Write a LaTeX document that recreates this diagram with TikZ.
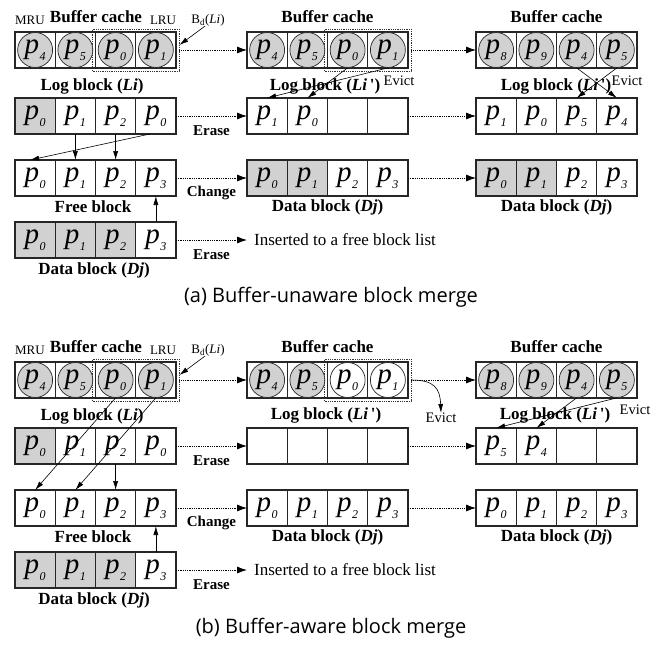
\documentclass[tikz,border=0pt]{standalone}
\usepackage{fontspec}
\setmainfont{Liberation Serif}
\newfontfamily\capfont{Open Sans}
\usetikzlibrary{arrows.meta,fit}
\colorlet{G}{black!18}
\newcommand\pp[1]{{\fontsize{29}{29}\selectfont\itshape p\kern0.5pt\raisebox{-7pt}{\fontsize{12}{12}\selectfont #1}}}
\newcommand\blockrow[4]{\foreach \fc/\cc [count=\i] in {#4} {\node[cell, fill=\fc] (#1-\i) at ({#2+(\i-0.5)*40.25}, #3) {\if x\cc\else\pp{\cc}\fi};}}
\newcommand\bufrow[4]{\foreach \fc/\cc [count=\i] in {#4} {\node[cell, fill=white] (#1-\i) at ({#2+(\i-0.5)*40.25}, #3) {}; \node[bcirc, fill=\fc] (#1-c\i) at (#1-\i) {\pp{\cc}};}}
\begin{document}
\begin{tikzpicture}[x=1pt,y=-1pt,
  cell/.style={draw=black!85, line width=1.3pt, minimum width=40.25pt, minimum height=36pt, inner sep=0pt, outer sep=0pt},
  bcirc/.style={circle, draw=black!85, line width=0.7pt, minimum size=35pt, inner sep=0pt},
  ttl/.style={font=\fontsize{17}{17}\selectfont\bfseries, inner sep=0pt},
  sml/.style={font=\fontsize{13}{13}\selectfont, inner sep=0pt},
  ev/.style={font=\fontsize{14.5}{14.5}\selectfont, inner sep=0pt},
  lbl/.style={font=\fontsize{15}{15}\selectfont\bfseries, inner sep=0pt},
  txt/.style={font=\fontsize{17}{17}\selectfont, inner sep=0pt},
  dbox/.style={draw=black!80, densely dotted, line width=0.8pt, inner sep=3pt},
  darr/.style={densely dotted, line width=0.8pt, -{Latex[length=10pt,width=7pt]}},
  sarr/.style={line width=0.6pt, -{Latex[length=9pt,width=5pt]}},
  captxt/.style={font=\capfont\fontsize{20}{20}\selectfont, inner sep=0pt}]
\useasboundingbox (0,0) rectangle (668,645);
% ================= (a) =================
% left column
\node[ttl] (aT1) at (96,17) {Buffer cache};
\node[sml] (aMRU) at (30,20) {MRU};
\node[sml] (aLRU) at (163,20) {LRU};
\node[sml] (aBd) at (208,20) {B\textsubscript{d}(\textit{Li})};
\bufrow{aLb}{15}{50}{G/4,G/5,G/0,G/1}
\node[dbox, fit=(aLb-3)(aLb-4)] (aLbox) {};
\draw[sarr] ([xshift=-3pt]aBd.south) -- ([yshift=5pt]aLbox.east);
\node[ttl] (aT2) at (92,86) {Log block (\textit{Li})};
\blockrow{aLl}{15}{116}{G/0,white/1,white/2,white/0}
\blockrow{aLf}{15}{178}{white/0,white/1,white/2,white/3}
\node[ttl] (aT3) at (93,207) {Free block};
\blockrow{aLd}{15}{240}{G/0,G/1,G/2,white/3}
\node[ttl] (aT4) at (94,270) {Data block (\textit{Dj})};
\draw[sarr] (aLl-2.south) -- (aLf-2.north);
\draw[sarr] (aLl-3.south) -- (aLf-3.north);
\draw[sarr] ([xshift=-6pt]aLl-4.south) -- ([xshift=-5pt]aLf-1.north);
\draw[sarr] (aLd-4.north) -- (aLf-4.south);
% middle column
\node[ttl] (aT5) at (327.5,17) {Buffer cache};
\bufrow{aMb}{247}{50}{G/4,G/5,G/0,G/1}
\node[dbox, fit=(aMb-3)(aMb-4)] (aMbox) {};
\node[ttl] (aT6) at (325,86) {Log block (\textit{Li}\,\textquotesingle)};
\node[ev] (aEv1) at (399,81) {Evict};
\blockrow{aMl}{247}{116}{white/1,white/0,white/x,white/x}
\blockrow{aMd}{247}{178}{G/0,G/1,white/2,white/3}
\node[ttl] (aT7) at (327.5,207) {Data block (\textit{Dj})};
\draw[sarr] (aMb-c3.south) -- (aMl-2.north);
\draw[sarr] (aMb-c4.south) -- (aMl-1.north);
% right column
\node[ttl] (aT8) at (556.5,17) {Buffer cache};
\bufrow{aRb}{476}{50}{G/8,G/9,G/4,G/5}
\node[ttl] (aT9) at (556,86) {Log block (\textit{Li}\,\textquotesingle)};
\node[ev] (aEv2) at (627,81) {Evict};
\blockrow{aRl}{476}{116}{white/1,white/0,white/5,white/4}
\blockrow{aRd}{476}{178}{G/0,G/1,white/2,white/3}
\node[ttl] (aT10) at (556.5,207) {Data block (\textit{Dj})};
\draw[sarr] (aRb-c3.south) -- (aRl-4.north);
\draw[sarr] (aRb-c4.south) -- (aRl-3.north);
% connectors between columns
\draw[darr] (aLbox.east) -- (aMb-1.west);
\draw[darr] (aMbox.east) -- (aRb-1.west);
\draw[darr] (aLl-4.east) -- node[lbl, midway, below=9pt] (aEr1) {Erase} (aMl-1.west);
\draw[darr] (aMl-4.east) -- (aRl-1.west);
\draw[darr] (aLf-4.east) -- node[lbl, midway, below=8pt] (aCh) {Change} (aMd-1.west);
\draw[darr] (aMd-4.east) -- (aRd-1.west);
\node[txt, anchor=west] (aIns) at (254,240) {Inserted to a free block list};
\draw[darr] (aLd-4.east) -- node[lbl, midway, below=9pt] (aEr2) {Erase} ([xshift=-7pt]aIns.west);
\node[captxt] (capA) at (331,297) {(a) Buffer-unaware block merge};
% ================= (b) =================
% left column
\node[ttl] (bT1) at (96,347) {Buffer cache};
\node[sml] (bMRU) at (30,350) {MRU};
\node[sml] (bLRU) at (163,350) {LRU};
\node[sml] (bBd) at (208,350) {B\textsubscript{d}(\textit{Li})};
\bufrow{bLb}{15}{380}{G/4,G/5,G/0,G/1}
\node[dbox, fit=(bLb-3)(bLb-4)] (bLbox) {};
\draw[sarr] ([xshift=-3pt]bBd.south) -- ([yshift=5pt]bLbox.east);
\node[ttl] (bT2) at (92,416) {Log block (\textit{Li})};
\blockrow{bLl}{15}{446}{G/0,white/1,white/2,white/0}
\blockrow{bLf}{15}{508}{white/0,white/1,white/2,white/3}
\node[ttl] (bT3) at (93,537) {Free block};
\blockrow{bLd}{15}{570}{G/0,G/1,G/2,white/3}
\node[ttl] (bT4) at (94,600) {Data block (\textit{Dj})};
\draw[sarr] (bLb-c3.south) -- (bLf-1.north);
\draw[sarr] (bLb-c4.south) -- (bLf-2.north);
\draw[sarr] (bLl-3.south) -- (bLf-3.north);
\draw[sarr] (bLd-4.north) -- (bLf-4.south);
% middle column
\node[ttl] (bT5) at (327.5,347) {Buffer cache};
\bufrow{bMb}{247}{380}{G/4,G/5,white/0,white/1}
\node[dbox, fit=(bMb-3)(bMb-4)] (bMbox) {};
\node[ttl] (bT6) at (326,415) {Log block (\textit{Li}\,\textquotesingle)};
\node[ev] (bEv1) at (441,418) {Evict};
\draw[sarr] (bMbox.east) .. controls (434,380) and (440,388) .. (bEv1.north);
\blockrow{bMl}{247}{446}{white/x,white/x,white/x,white/x}
\blockrow{bMd}{247}{508}{white/0,white/1,white/2,white/3}
\node[ttl] (bT7) at (327.5,537) {Data block (\textit{Dj})};
% right column
\node[ttl] (bT8) at (556.5,347) {Buffer cache};
\bufrow{bRb}{476}{380}{G/8,G/9,G/4,G/5}
\node[ttl] (bT9) at (555,415) {Log block (\textit{Li}\,\textquotesingle)};
\node[ev] (bEv2) at (635,410) {Evict};
\blockrow{bRl}{476}{446}{white/5,white/4,white/x,white/x}
\blockrow{bRd}{476}{508}{white/0,white/1,white/2,white/3}
\node[ttl] (bT10) at (556.5,537) {Data block (\textit{Dj})};
\draw[sarr] (bRb-c3.south) -- (bRl-2.north);
\draw[sarr] (bRb-c4.south) -- (bRl-1.north);
% connectors between columns
\draw[darr] (bLbox.east) -- (bMb-1.west);
\draw[darr] (bMbox.east) -- (bRb-1.west);
\draw[darr] (bLl-4.east) -- node[lbl, midway, below=9pt] (bEr1) {Erase} (bMl-1.west);
\draw[darr] (bMl-4.east) -- (bRl-1.west);
\draw[darr] (bLf-4.east) -- node[lbl, midway, below=8pt] (bCh) {Change} (bMd-1.west);
\draw[darr] (bMd-4.east) -- (bRd-1.west);
\node[txt, anchor=west] (bIns) at (254,570) {Inserted to a free block list};
\draw[darr] (bLd-4.east) -- node[lbl, midway, below=9pt] (bEr2) {Erase} ([xshift=-7pt]bIns.west);
\node[captxt] (capB) at (331,628) {(b) Buffer-aware block merge};
\end{tikzpicture}
\end{document}
